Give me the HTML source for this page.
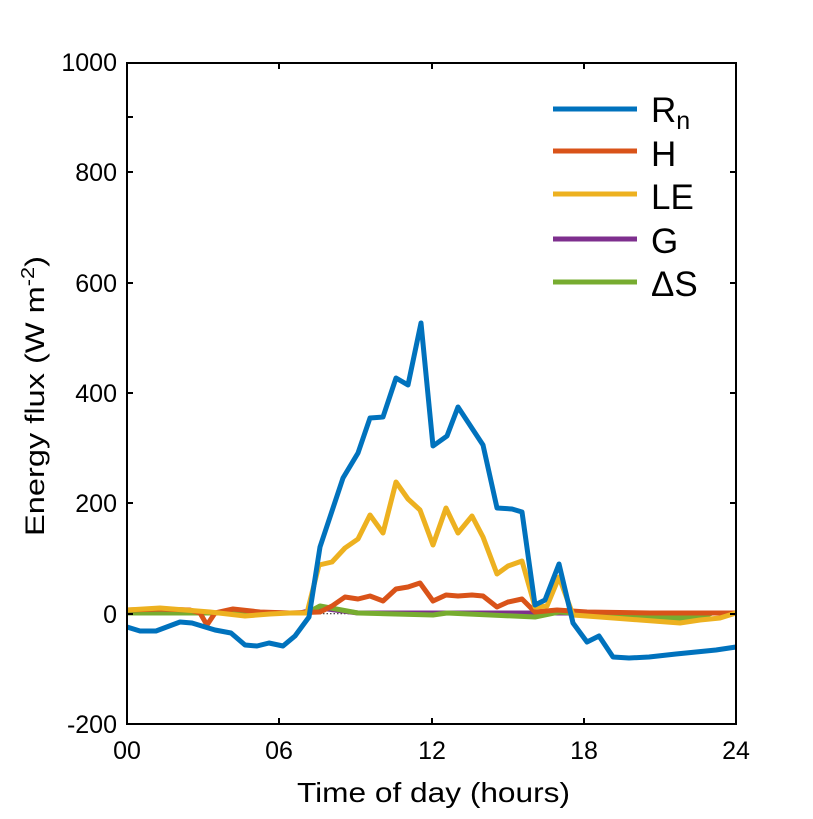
<!DOCTYPE html>
<html><head><meta charset="utf-8"><style>body{margin:0;background:#fff}</style></head><body>
<svg width="813" height="814" xmlns="http://www.w3.org/2000/svg" font-family="Liberation Sans, DejaVu Sans, sans-serif">
<rect width="813" height="814" fill="#fff"/>
<line x1="127" y1="613.7" x2="736" y2="613.7" stroke="#333" stroke-width="1.2" stroke-dasharray="1.5,2"/>
<g fill="none" stroke-width="5" stroke-linejoin="round">
<polyline stroke="#7E2F8E" points="127,613 300,613 320,608 358,613 736,613"/>
<polyline stroke="#77AC30" points="127,613 290,613 307,613 320,606 358,613 433,615 447,613 535,617 559,612 587,614 640,617 676,618 700,618 712,613 736,613"/>
<polyline stroke="#D95319" points="127,610 160,609 190,610 200,613 207,625 215,613 233,609 260,612 290,613 320,612 332,606 345,597 358,599 370,596 383,601 396,589 408,587 420,583 433,601 446,595 458,596 472,595 483,596 497,607 508,602 522,599 535,612 557,610 587,612 650,613 736,613"/>
<polyline stroke="#EDB120" points="127,610 160,608 185,610 210,612 245,616 270,614 290,613 307,613 319,565 332,562 345,548 358,539 370,515 383,533 396,482 408,499 420,510 433,545 446,508 458,533 472,516 483,537 497,574 508,566 522,561 535,607 547,606 559,577 573,615 600,617 640,620 680,623 700,620 720,618 736,613"/>
<polyline stroke="#0072BD" points="127,627 140,631 156,631 180,622 192,623 215,630 231,633 245,645 257,646 269,643 283,646 295,636 309,617 320,547 343,478 358,453 370,418 383,417 396,378 408,385 421,323 433,446 447,436 458,407 483,445 497,508 512,509 522,512 535,605 545,600 559,564 573,623 587,642 599,636 613,657 629,658 649,657 676,654 716,650 736,647"/>
</g>
<rect x="127" y="63" width="609" height="661" fill="none" stroke="#000" stroke-width="2"/>
<g stroke="#000" stroke-width="2">
<line x1="127" y1="117" x2="133" y2="117"/><line x1="127" y1="172" x2="133" y2="172"/><line x1="127" y1="283" x2="133" y2="283"/><line x1="127" y1="393" x2="133" y2="393"/><line x1="127" y1="503" x2="133" y2="503"/><line x1="127" y1="614" x2="133" y2="614"/>
<line x1="736" y1="172" x2="730" y2="172"/><line x1="736" y1="283" x2="730" y2="283"/><line x1="736" y1="393" x2="730" y2="393"/><line x1="736" y1="503" x2="730" y2="503"/><line x1="736" y1="614" x2="730" y2="614"/>
<line x1="279" y1="724" x2="279" y2="718"/><line x1="432" y1="724" x2="432" y2="718"/><line x1="584" y1="724" x2="584" y2="718"/>
<line x1="279" y1="63" x2="279" y2="69"/><line x1="432" y1="63" x2="432" y2="69"/><line x1="584" y1="63" x2="584" y2="69"/>
</g>
<g font-size="25" text-anchor="end" fill="#000">
<text x="117" y="71">1000</text><text x="117" y="181">800</text><text x="117" y="292">600</text><text x="117" y="402">400</text><text x="117" y="512">200</text><text x="117" y="623">0</text><text x="117" y="733">-200</text>
</g>
<g font-size="25" text-anchor="middle">
<text x="127" y="759">00</text><text x="279" y="759">06</text><text x="432" y="759">12</text><text x="584" y="759">18</text><text x="736" y="759">24</text>
</g>
<text x="297" y="802" font-size="28" textLength="273" lengthAdjust="spacingAndGlyphs">Time of day (hours)</text>
<text transform="translate(44,536) rotate(-90)" font-size="27" textLength="280" lengthAdjust="spacingAndGlyphs">Energy flux (W m<tspan dy="-10" font-size="18">-2</tspan><tspan dy="10">)</tspan></text>
<g stroke-width="5">
<line x1="553" y1="109" x2="637" y2="109" stroke="#0072BD"/>
<line x1="553" y1="151" x2="637" y2="151" stroke="#D95319"/>
<line x1="553" y1="194" x2="637" y2="194" stroke="#EDB120"/>
<line x1="553" y1="239" x2="637" y2="239" stroke="#7E2F8E"/>
<line x1="553" y1="282" x2="637" y2="282" stroke="#77AC30"/>
</g>
<g font-size="35">
<text x="651" y="122">R<tspan font-size="25" dy="7">n</tspan></text>
<text x="651" y="166">H</text>
<text x="651" y="209">LE</text>
<text x="651" y="253">G</text>
<text x="651" y="296">ΔS</text>
</g>
</svg>
</body></html>
